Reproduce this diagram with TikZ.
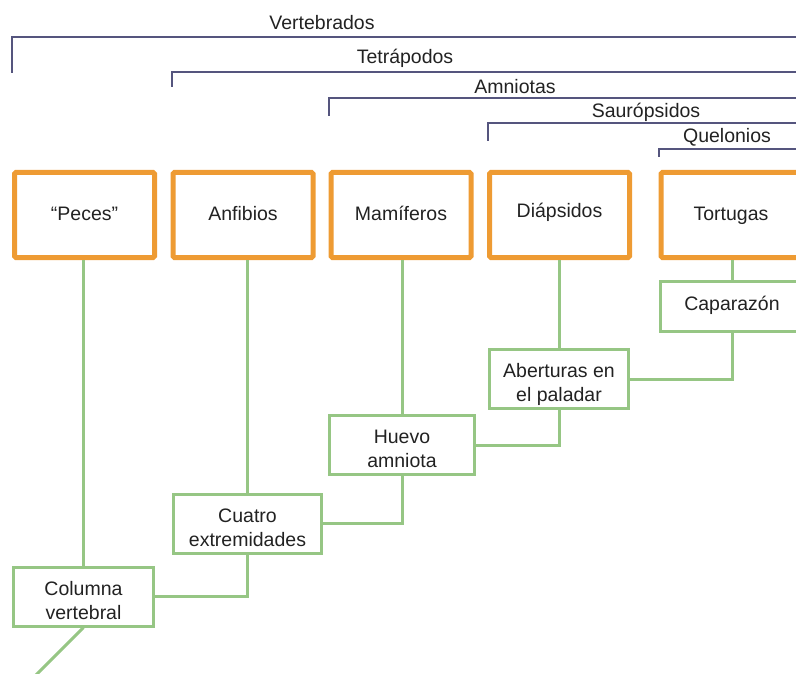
\documentclass[tikz,border=0pt]{standalone}
\usepackage{fontspec}
\setmainfont{Liberation Sans}
\definecolor{orng}{HTML}{EE9B33}
\definecolor{grn}{HTML}{96C684}
\definecolor{brk}{HTML}{55557E}
\definecolor{txt}{HTML}{222222}
\newcommand{\twoline}[2]{\begin{tabular}{@{}c@{}}#1\\#2\end{tabular}}
\begin{document}
\begin{tikzpicture}[x=1pt,y=-1pt,
  every node/.style={font=\fontsize{19.5}{24}\selectfont, text=txt},
  taxon/.style={draw=orng, line width=5pt, rounded corners=1.5pt, fill=white, minimum width=140pt, minimum height=85pt, inner sep=0pt, align=center, text height=14pt, text depth=2pt},
  trait/.style={draw=grn, line width=3pt, fill=white, minimum height=59pt, inner sep=0pt, text height=34pt, text depth=12.2pt},
  link/.style={draw=grn, line width=3pt},
  bracket/.style={draw=brk, line width=1.1pt},
  clade/.style={inner sep=0pt, anchor=center}]
\useasboundingbox (0,0) rectangle (796,674);
% brackets
\draw[bracket] (12,73) |- (800,37);
\draw[bracket] (172,87) |- (800,72);
\draw[bracket] (329,116) |- (800,98);
\draw[bracket] (488,141) |- (800,123);
\draw[bracket] (659,157) |- (800,149);
\node[clade] (lv) at (322,23) {Vertebrados};
\node[clade] (lt) at (405,58) {Tetrápodos};
\node[clade] (la) at (515,87) {Amniotas};
\node[clade] (ls) at (646,112) {Saurópsidos};
\node[clade] (lq) at (727,137) {Quelonios};
% taxa
\node[taxon] (peces) at (84.5,215) {“Peces”};
\node[taxon] (anf) at (243,215) {Anfibios};
\node[taxon] (mam) at (401,215) {Mamíferos};
\node[taxon] (dia) at (559.5,215) {\raisebox{3pt}{Diápsidos}};
\node[taxon] (tor) at (731,215) {Tortugas};
% traits
\node[trait, minimum width=140pt] (col) at (83.5,596.5) {\twoline{Columna}{vertebral}};
\node[trait, minimum width=148pt] (cua) at (247.5,523.5) {\twoline{Cuatro}{extremidades}};
\node[trait, minimum width=145pt] (hue) at (402,445) {\twoline{Huevo}{amniota}};
\node[trait, minimum width=139pt] (abe) at (559,379) {\twoline{Aberturas en}{el paladar}};
\node[trait, minimum width=144pt, minimum height=50pt, text height=14pt, text depth=7pt] (cap) at (732,306.5) {Caparazón};
\coordinate (root) at (35,676);
% links
\draw[link] (col.north) -- (col.north |- peces.south);
\draw[link] (cua.north) -- (cua.north |- anf.south);
\draw[link] (hue.north) -- (hue.north |- mam.south);
\draw[link] (abe.north) -- (abe.north |- dia.south);
\draw[link] (cap.north) -- (cap.north |- tor.south);
\draw[link] (cap.south) |- (abe.east);
\draw[link] (abe.south) |- (hue.east);
\draw[link] (hue.south) |- (cua.east);
\draw[link] (cua.south) |- (col.east);
\draw[link] (col.south) -- (root);
\end{tikzpicture}
\end{document}
